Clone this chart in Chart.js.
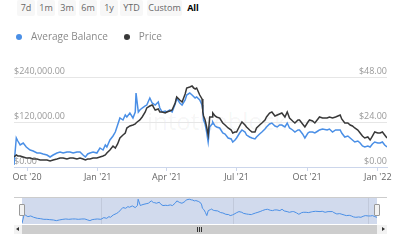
<!DOCTYPE html>
<html>
<head>
<meta charset="utf-8">
<script src="https://cdn.jsdelivr.net/npm/chart.js@4/dist/chart.umd.min.js"></script>
<style>
html, body { margin: 0; padding: 0; background: #fff; }
body { width: 400px; height: 240px; position: relative; overflow: hidden; font-family: "Open Sans", sans-serif; }
.abs { position: absolute; }
#btns span { position: absolute; top: 0; height: 16px; line-height: 16px; font-size: 9px; color: #666; background: #f7f7f7; text-align: center; border-radius: 2px; }
#btns span.on { background: none; color: #000; font-weight: bold; }
#wm { position: absolute; left: 147px; top: 104px; font-size: 24px; color: rgba(0,0,0,0.05); z-index: 0; }
canvas { position: absolute; left: 0; z-index: 1; }
.handle { position: absolute; width: 4px; height: 10px; background: #f2f2f2; border: 1px solid #999; border-radius: 1px; z-index: 2; }
</style>
</head>
<body>
<div id="btns">
  <span style="left:17px;width:18px">7d</span>
  <span style="left:37px;width:18px">1m</span>
  <span style="left:58px;width:18px">3m</span>
  <span style="left:79px;width:18px">6m</span>
  <span style="left:100px;width:18px">1y</span>
  <span style="left:120px;width:23px">YTD</span>
  <span style="left:147px;width:35px">Custom</span>
  <span class="on" style="left:185px;width:16px">All</span>
</div>
<div id="wm">intotheblock</div>
<canvas id="main" width="400" height="190" style="top:0"></canvas>
<canvas id="nav" width="400" height="36" style="top:190px"></canvas>
<div class="abs" style="left:14px;top:197px;width:373px;height:1px;background:#ccc;z-index:2"></div>
<div class="handle" style="left:19px;top:204px"></div>
<div class="handle" style="left:374px;top:204px"></div>
<div class="abs" style="left:14px;top:225px;width:373px;height:9px;background:#f2f2f2"></div>
<div class="abs" style="left:22px;top:225px;width:355px;height:9px;background:#cdcdcd"></div>
<div class="abs" style="left:16px;top:227px;width:0;height:0;border-top:2.5px solid transparent;border-bottom:2.5px solid transparent;border-right:3px solid #333"></div>
<div class="abs" style="left:382px;top:227px;width:0;height:0;border-top:2.5px solid transparent;border-bottom:2.5px solid transparent;border-left:3px solid #333"></div>
<div class="abs" style="left:197px;top:227px;width:1px;height:5px;background:#333"></div>
<div class="abs" style="left:199px;top:227px;width:1px;height:5px;background:#333"></div>
<div class="abs" style="left:201px;top:227px;width:1px;height:5px;background:#333"></div>
<script>
// values
const dates = [
  '2020-09-14','2020-09-17','2020-09-19','2020-09-22','2020-09-26','2020-09-30','2020-10-05','2020-10-09','2020-10-14','2020-10-18',
  '2020-10-22','2020-10-27','2020-10-31','2020-11-04','2020-11-09','2020-11-13','2020-11-17','2020-11-22','2020-11-26','2020-11-30',
  '2020-12-05','2020-12-09','2020-12-13','2020-12-16','2020-12-19','2020-12-22','2020-12-26','2020-12-31','2021-01-04','2021-01-08',
  '2021-01-11','2021-01-13','2021-01-17','2021-01-21','2021-01-24','2021-01-27','2021-01-30','2021-02-03','2021-02-06','2021-02-08',
  '2021-02-12','2021-02-16','2021-02-19','2021-02-20','2021-02-23','2021-02-25','2021-02-28','2021-03-04','2021-03-06','2021-03-10',
  '2021-03-13','2021-03-14','2021-03-17','2021-03-21','2021-03-23','2021-03-26','2021-03-30','2021-04-01','2021-04-05','2021-04-08',
  '2021-04-12','2021-04-14','2021-04-18','2021-04-21','2021-04-25','2021-04-27','2021-05-01','2021-05-04','2021-05-05','2021-05-08',
  '2021-05-10','2021-05-14','2021-05-17','2021-05-18','2021-05-19','2021-05-21','2021-05-23','2021-05-25','2021-05-27','2021-05-30',
  '2021-05-31','2021-06-03','2021-06-05','2021-06-09','2021-06-13','2021-06-16','2021-06-20','2021-06-24','2021-06-26','2021-06-29',
  '2021-07-01','2021-07-05','2021-07-08','2021-07-12','2021-07-14','2021-07-18','2021-07-21','2021-07-25','2021-07-27','2021-07-31',
  '2021-08-03','2021-08-07','2021-08-09','2021-08-13','2021-08-16','2021-08-20','2021-08-23','2021-08-26','2021-08-29','2021-09-02',
  '2021-09-05','2021-09-08','2021-09-12','2021-09-15','2021-09-19','2021-09-21','2021-09-25','2021-09-28','2021-10-02','2021-10-04',
  '2021-10-08','2021-10-11','2021-10-15','2021-10-17','2021-10-21','2021-10-27','2021-10-30','2021-11-03','2021-11-07','2021-11-13',
  '2021-11-15','2021-11-19','2021-11-23','2021-11-26','2021-11-29','2021-12-02','2021-12-06','2021-12-09','2021-12-12','2021-12-15',
  '2021-12-19','2021-12-22','2021-12-25','2021-12-28','2022-01-01','2022-01-04','2022-01-07','2022-01-10','2022-01-13'
];

const avgBalance = [
  5300,77300,69300,58700,64000,53300,45300,42700,37300,37300,
  34700,32000,26700,32000,37300,40000,37300,40000,40000,37300,
  40000,40000,32000,26700,34700,37300,40000,37300,50700,45300,
  58700,53300,72000,82700,93300,112000,130700,125300,138700,133300,
  144000,130700,146700,197300,146700,152000,157300,162700,165300,184000,
  170700,170700,165300,173300,157300,146700,149300,146700,152000,146700,
  168000,184000,170700,165300,178700,192000,197300,192000,192000,184000,
  186700,178700,165300,152000,125300,114700,93300,66700,106700,114700,
  120000,109300,106700,104000,90700,88000,77300,74700,66700,72000,
  77300,90700,98700,93300,85300,80000,77300,74700,80000,88000,
  93300,101300,106700,114700,117300,109300,106700,112000,112000,106700,
  117300,104000,98700,93300,98700,98700,88000,77300,90700,93300,
  93300,90700,96000,98700,101300,98700,101300,93300,98700,98700,
  90700,80000,82700,77300,72000,66700,69300,64000,56000,53300,
  56000,53300,61300,66700,64000,64000,66700,58700,53300
];

const price = [
  5.33,6.40,5.87,5.87,5.33,4.80,4.80,4.27,4.27,3.73,
  3.73,3.73,3.20,3.73,4.27,4.80,4.80,4.27,4.80,4.80,
  4.27,4.80,4.27,3.73,4.27,4.27,4.80,4.80,5.33,5.87,
  6.40,7.47,9.07,11.20,10.13,12.27,15.47,17.07,18.13,20.80,
  21.87,22.40,22.93,23.47,24.53,25.07,26.67,29.33,31.47,32.53,
  33.07,32.53,30.40,30.93,29.33,29.33,28.80,29.33,29.87,30.40,
  34.13,37.33,35.73,34.67,38.93,42.13,42.67,43.20,42.67,41.60,
  42.13,38.40,36.27,29.33,27.20,25.07,21.33,17.07,26.67,26.67,
  28.80,27.20,26.67,26.13,23.47,22.40,20.80,19.73,18.13,18.67,
  18.67,21.87,24.00,22.40,21.33,19.73,18.67,18.67,20.80,22.40,
  23.47,25.07,26.67,28.80,29.33,27.20,27.73,28.27,28.80,26.67,
  29.33,26.13,24.53,23.47,25.07,25.07,22.93,21.33,24.00,25.07,
  24.53,23.47,25.60,26.67,26.13,26.13,26.67,26.13,26.67,27.73,
  25.60,23.47,23.47,22.40,21.87,20.80,19.73,18.13,16.53,15.47,
  16.00,14.40,16.53,18.67,18.13,18.13,18.67,17.07,15.47
];

const tickDates = ['2020-10-01','2021-01-01','2021-04-01','2021-07-01','2021-10-01','2022-01-01'];
const tickLabels = ["Oct '20","Jan '21","Apr '21","Jul '21","Oct '21","Jan '22"];
const navTickDates = ['2021-01-01','2021-07-01','2022-01-01'];
const navTickLabels = ["Jan '21","Jul '21","J\u2026"];
const balanceTicks = [0, 120000, 240000];
const priceTicks = [0, 24, 48];

const BLUE = '#4a8fe6';
const DARK = '#383838';

Chart.defaults.font.family = '"Open Sans", sans-serif';

const day = s => Date.parse(s) / 864e5;
const pts = vals => dates.map((d, i) => ({ x: day(d), y: vals[i] }));
const money = v => '$' + v.toLocaleString('en-US', { minimumFractionDigits: 2, maximumFractionDigits: 2 });

// small round legend marker
function dot(color) {
    const c = document.createElement('canvas');
    c.width = c.height = 6;
    const g = c.getContext('2d');
    g.fillStyle = color;
    g.beginPath();
    g.arc(3, 3, 3, 0, Math.PI * 2);
    g.fill();
    return c;
}

// extra room between legend and plot
const legendGap = {
    id: 'legendGap',
    beforeInit(chart) {
        const fit = chart.legend.fit;
        chart.legend.fit = function () { fit.call(this); this.height += 25; };
    }
};

new Chart(document.getElementById('main'), {
    type: 'line',
    data: {
        datasets: [
            { label: 'Average Balance', data: pts(avgBalance), borderColor: BLUE, backgroundColor: BLUE, pointStyle: dot(BLUE), yAxisID: 'yBal', order: 1 },
            { label: 'Price', data: pts(price), borderColor: DARK, backgroundColor: DARK, pointStyle: dot(DARK), yAxisID: 'yPrice', order: 0 }
        ]
    },
    options: {
        responsive: false,
        animation: false,
        elements: { line: { borderWidth: 1.5, tension: 0 }, point: { radius: 0 } },
        layout: { padding: { top: 20, left: 0, right: 0, bottom: 7 } },
        plugins: {
            legend: {
                align: 'start',
                labels: {
                    usePointStyle: true, pointStyleWidth: 14, boxHeight: 6, padding: 12,
                    color: '#8a8a8a', font: { size: 10 },
                    sort: (a, b) => a.datasetIndex - b.datasetIndex
                }
            },
            tooltip: { enabled: false }
        },
        scales: {
            x: {
                type: 'linear',
                min: day(dates[0]),
                max: day(dates[dates.length - 1]),
                afterBuildTicks: s => { s.ticks = tickDates.map(d => ({ value: day(d) })); },
                afterFit: s => { s.height = 16; },
                ticks: { callback: (v, i) => tickLabels[i], padding: 1, color: '#666', font: { size: 9 }, maxRotation: 0, autoSkip: false },
                grid: { drawOnChartArea: false, tickLength: 4, color: '#ccd6eb' },
                border: { color: '#ccd6eb' }
            },
            yBal: {
                position: 'left',
                min: 0, max: 240000,
                afterBuildTicks: s => { s.ticks = balanceTicks.map(v => ({ value: v })); },
                afterFit: s => { s.width = 14; },
                ticks: { mirror: true, padding: 0, labelOffset: -6, color: '#999', font: { size: 9 }, callback: v => money(v) },
                grid: { color: '#e6e6e6', drawTicks: false },
                border: { display: false }
            },
            yPrice: {
                position: 'right',
                min: 0, max: 48,
                afterBuildTicks: s => { s.ticks = priceTicks.map(v => ({ value: v })); },
                afterFit: s => { s.width = 13; },
                ticks: { mirror: true, padding: 0, labelOffset: -6, color: '#999', font: { size: 9 }, callback: v => money(v) },
                grid: { drawOnChartArea: false, drawTicks: false },
                border: { display: false }
            }
        }
    },
    plugins: [legendGap]
});

// navigator: shaded selection behind a thin balance line
const navMask = {
    id: 'navMask',
    beforeDraw(chart) {
        const a = chart.chartArea, c = chart.ctx;
        c.save();
        c.fillStyle = 'rgba(102,133,194,0.3)';
        c.fillRect(a.left, a.top, a.right - a.left, a.bottom - a.top);
        c.restore();
    }
};

new Chart(document.getElementById('nav'), {
    type: 'line',
    data: { datasets: [{ data: pts(avgBalance), borderColor: BLUE, borderWidth: 1 }] },
    options: {
        responsive: false,
        animation: false,
        elements: { point: { radius: 0 }, line: { tension: 0 } },
        layout: { padding: { left: 22, right: 23, top: 7, bottom: 2 } },
        plugins: { legend: { display: false }, tooltip: { enabled: false } },
        scales: {
            x: {
                type: 'linear',
                min: day(dates[0]),
                max: day(dates[dates.length - 1]),
                afterBuildTicks: s => { s.ticks = navTickDates.map(d => ({ value: day(d) })); },
                afterFit: s => { s.height = 0; },
                ticks: { callback: (v, i) => navTickLabels[i], align: 'start', padding: -11, labelOffset: 2, color: '#8a8a8a', font: { size: 8 }, maxRotation: 0, autoSkip: false },
                grid: { drawTicks: false, color: 'rgba(0,0,0,0.08)' },
                border: { display: false }
            },
            y: { display: false, min: 0, max: 215000 }
        }
    },
    plugins: [navMask]
});
</script>
</body>
</html>
